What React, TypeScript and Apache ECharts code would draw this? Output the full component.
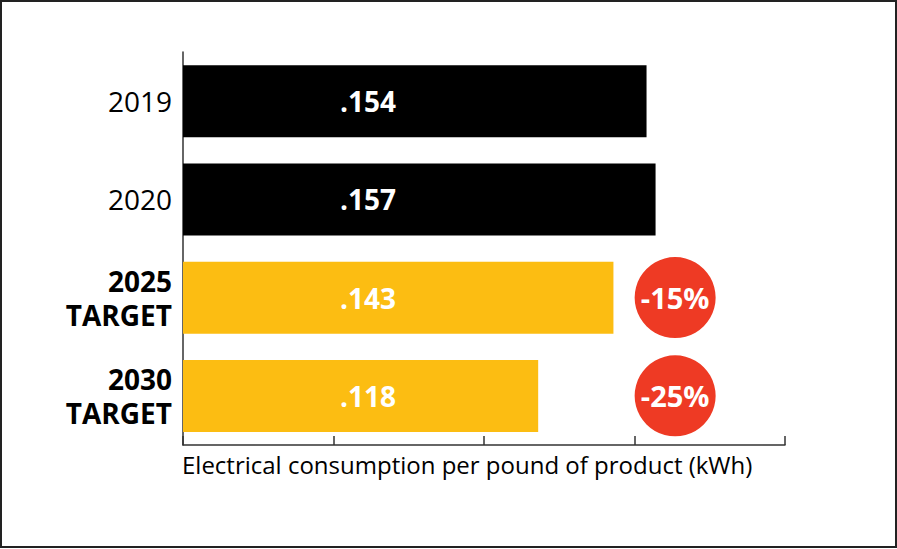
import React, { useEffect, useRef } from "react";
import * as echarts from "echarts";

const categories = ["2019", "2020", "2025\nTARGET", "2030\nTARGET"];
const values = [0.154, 0.157, 0.143, 0.118];
const valueLabels = [".154", ".157", ".143", ".118"];
const isTarget = [false, false, true, true];
const reductionCategories = ["2025\nTARGET", "2030\nTARGET"];
const reductionLabels = ["-15%", "-25%"];
const badgeX = 0.1635;
const axisTitle = "Electrical consumption per pound of product (kWh)";

const BLACK = "#000000";
const YELLOW = "#FCBD12";
const RED = "#EE3A24";
const FONT = "'Open Sans', sans-serif";

export default function App() {
  const ref = useRef<HTMLDivElement>(null);
  useEffect(() => {
    if (!ref.current) return;
    const chart = echarts.init(ref.current, null, { renderer: "svg" });
    chart.setOption({
      animation: false,
      backgroundColor: "#ffffff",
      grid: { left: 183, right: 112, top: 52, bottom: 104, containLabel: false },
      xAxis: {
        type: "value",
        min: 0,
        max: 0.2,
        interval: 0.05,
        axisLine: { show: true, lineStyle: { color: "#333", width: 1.5 } },
        axisTick: { show: true, inside: true, length: 9, lineStyle: { color: "#333", width: 1.5 } },
        axisLabel: { show: false },
        splitLine: { show: false },
      },
      yAxis: {
        type: "category",
        data: categories.map((c, i) => ({
          value: c,
          textStyle: { fontWeight: isTarget[i] ? "bold" : "normal" },
        })),
        inverse: true,
        axisLine: { show: true, lineStyle: { color: "#333", width: 1.5 } },
        axisTick: { show: false },
        axisLabel: {
          margin: 11,
          fontFamily: FONT,
          fontSize: 28,
          lineHeight: 34,
          color: "#000",
        },
      },
      series: [
        {
          type: "bar",
          barWidth: 72,
          data: values.map((v, i) => ({
            value: v,
            itemStyle: { color: isTarget[i] ? YELLOW : BLACK },
            label: {
              show: true,
              position: [157, "50%"],
              align: "left",
              verticalAlign: "middle",
              formatter: valueLabels[i],
              color: "#fff",
              fontFamily: FONT,
              fontWeight: "bold",
              fontSize: 28,
            },
          })),
        },
        {
          type: "scatter",
          symbol: "circle",
          symbolSize: 81,
          itemStyle: { color: RED, opacity: 1 },
          data: reductionCategories.map((c, i) => ({
            value: [badgeX, c],
            label: {
              show: true,
              position: "inside",
              formatter: reductionLabels[i],
              color: "#fff",
              fontFamily: FONT,
              fontWeight: "bold",
              fontSize: 29,
            },
          })),
        },
      ],
      graphic: [
        {
          type: "text",
          left: 182,
          top: 452,
          style: { text: axisTitle, fontFamily: FONT, fontSize: 24, fill: "#000" },
        },
        {
          type: "rect",
          shape: { x: 1, y: 1, width: 895, height: 546 },
          style: { fill: "none", stroke: "#222", lineWidth: 2 },
          silent: true,
        },
      ],
    });
    return () => chart.dispose();
  }, []);
  return <div ref={ref} style={{ width: 897, height: 549, position: "absolute", left: 0, top: 0 }} />;
}
